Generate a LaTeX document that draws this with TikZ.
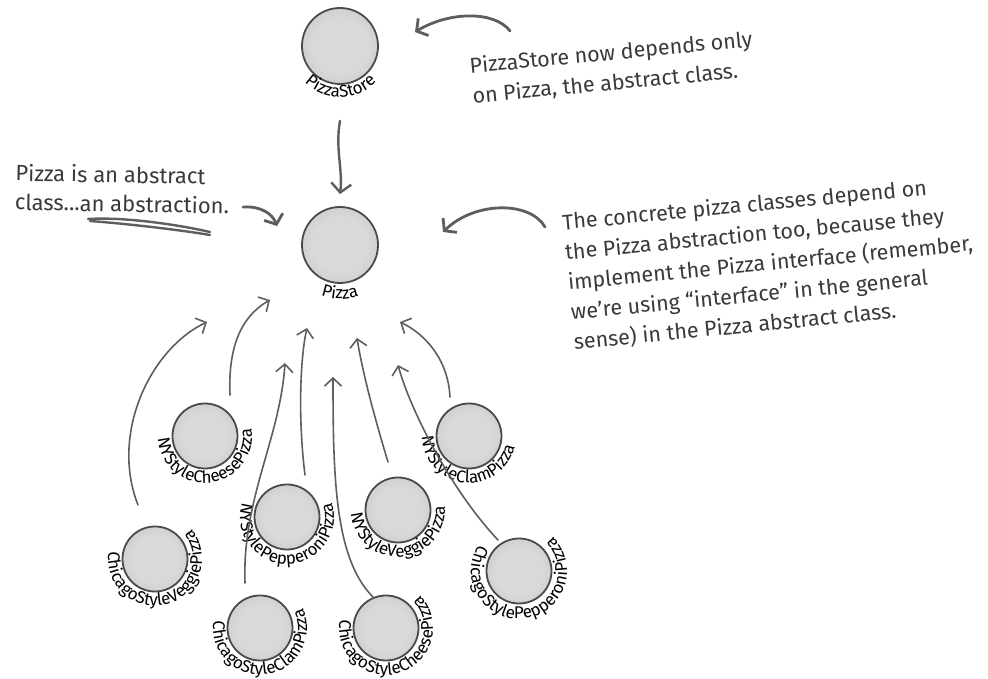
\documentclass[tikz,border=0pt]{standalone}
\usepackage{fontspec}
\setmainfont{Fira Sans}
\newfontfamily\lblfam{Fira Sans}
\usetikzlibrary{arrows.meta,decorations.text}
\definecolor{ballc}{HTML}{D9D9D9}
\definecolor{ballm}{HTML}{C4C4C4}
\definecolor{balle}{HTML}{9A9A9A}
\definecolor{ballr}{HTML}{6A6A6A}
\definecolor{ballline}{HTML}{4A4A4A}
\definecolor{arrowc}{HTML}{5E5E5E}
\definecolor{annotc}{HTML}{3A3A3A}
\pgfdeclareradialshading{ballshade}{\pgfpoint{0bp}{0bp}}{color(0bp)=(ballc); color(18bp)=(ballc); color(35bp)=(ballm); color(45bp)=(balle); color(50bp)=(ballr)}
\newcommand\lblfont{\lblfam\fontsize{17}{20}\selectfont}
\newcommand\notefont{\fontsize{21.5}{30}\selectfont}
\begin{document}
\begin{tikzpicture}[x=1pt,y=1pt,
  ball/.style={circle, inner sep=0pt, minimum size=65pt, shade, shading=ballshade, draw=ballline, line width=1.8pt},
  bigball/.style={ball, minimum size=76pt},
  dep/.style={draw=arrowc, line width=1.6pt, line cap=round, -{Straight Barb[length=8pt,width=17pt]}},
  noteline/.style={draw=arrowc, line width=2.8pt, line cap=round},
  note/.style={noteline, -{Straight Barb[length=8pt,width=20pt]}},
  notetext/.style={text=annotc, font=\notefont, align=left, inner sep=0pt}]
\fill[white] (0,0) rectangle (988,679);
\useasboundingbox (0,0) rectangle (988,679);

% balls
\node[bigball] (store) at (340,633) {};
\node[bigball] (pizza) at (340,434) {};
\node[ball] (nycheese) at (205,243) {};
\node[ball] (nypep) at (287,162) {};
\node[ball] (chiveg) at (155,120) {};
\node[ball] (chiclam) at (260,51) {};
\node[ball] (nyclam) at (469,243) {};
\node[ball] (nyveg) at (398,169) {};
\node[ball] (chipep) at (519,108) {};
\node[ball] (chicheese) at (386,51) {};

% curved labels
\path[decorate, decoration={text along path, text={|\lblfont|PizzaStore}, text align=center}]
  ([shift={(121:51pt)}]store.center) arc[start angle=121, end angle=421, radius=51pt];
\path[decorate, decoration={text along path, text={|\lblfont|Pizza}, text align=center}]
  ([shift={(120:54pt)}]pizza.center) arc[start angle=120, end angle=420, radius=54pt];
\path[decorate, decoration={text along path, text={|\lblfont|NYStyleCheesePizza}, text align=center}]
  ([shift={(126:47pt)}]nycheese.center) arc[start angle=126, end angle=426, radius=47pt];
\path[decorate, decoration={text along path, text={|\lblfont|NYStylePepperoniPizza}, text align=center}]
  ([shift={(120:47pt)}]nypep.center) arc[start angle=120, end angle=420, radius=47pt];
\path[decorate, decoration={text along path, text={|\lblfont|ChicagoStyleVeggiePizza}, text align=center}]
  ([shift={(135:47pt)}]chiveg.center) arc[start angle=135, end angle=435, radius=47pt];
\path[decorate, decoration={text along path, text={|\lblfont|ChicagoStyleClamPizza}, text align=center}]
  ([shift={(128:47pt)}]chiclam.center) arc[start angle=128, end angle=428, radius=47pt];
\path[decorate, decoration={text along path, text={|\lblfont|NYStyleClamPizza}, text align=center}]
  ([shift={(114:47pt)}]nyclam.center) arc[start angle=114, end angle=414, radius=47pt];
\path[decorate, decoration={text along path, text={|\lblfont|NYStyleVeggiePizza}, text align=center}]
  ([shift={(124:47pt)}]nyveg.center) arc[start angle=124, end angle=424, radius=47pt];
\path[decorate, decoration={text along path, text={|\lblfont|ChicagoStylePepperoniPizza}, text align=center}]
  ([shift={(126:48pt)}]chipep.center) arc[start angle=126, end angle=426, radius=48pt];
\path[decorate, decoration={text along path, text={|\lblfont|ChicagoStyleCheesePizza}, text align=center}]
  ([shift={(137:47pt)}]chicheese.center) arc[start angle=137, end angle=437, radius=47pt];

% arrow tips
\coordinate (t1) at (207,357);
\coordinate (t2) at (270,379);
\coordinate (t3) at (307,351);
\coordinate (t4) at (285,316);
\coordinate (t5) at (333,302);
\coordinate (t6) at (357,341);
\coordinate (t7) at (398,314);
\coordinate (t8) at (400,357);

% dependency arrows
\draw[dep, line width=2.4pt, -{Straight Barb[length=9pt,width=20pt]}] ([yshift=-36pt]store.south) .. controls (335,530) and (343,510) .. ([yshift=12pt]pizza.north);
\draw[dep] ([shift={(-17,54)}]chiveg.center) .. controls (110,245) and (150,330) .. (t1);
\draw[dep] ([shift={(25,41)}]nycheese.center) .. controls (228,330) and (240,362) .. (t2);
\draw[dep] ([shift={(18,42)}]nypep.center) .. controls (298,260) and (300,320) .. (t3);
\draw[dep] ([shift={(-15,45)}]chiclam.center) .. controls (242,180) and (280,240) .. (t4);
\draw[dep] ([shift={(-13,31)}]chicheese.center) .. controls (335,120) and (333,200) .. (t5);
\draw[dep] ([shift={(-10,48)}]nyveg.center) .. controls (372,270) and (362,310) .. (t6);
\draw[dep] ([shift={(-21,31)}]chipep.center) .. controls (450,190) and (410,270) .. (t7);
\draw[dep] ([shift={(-19,39)}]nyclam.center) .. controls (448,320) and (425,345) .. (t8);

% annotations
\node[notetext, anchor=west, rotate=5.5] (storenote) at (471,597)
  {PizzaStore now depends only\\on Pizza, the abstract class.};
\node[notetext, anchor=west, rotate=-1, font=\fontsize{22}{29}\selectfont] (absnote) at (15,492)
  {Pizza is an abstract\\class...an abstraction.};
\node[notetext, anchor=west, rotate=5.5] (concnote) at (568,396)
  {The concrete pizza classes depend on\\the Pizza abstraction too, because they\\implement the Pizza interface (remember,\\we’re using “interface” in the general\\sense) in the Pizza abstract class.};

\coordinate (n1s) at (510,648);
\coordinate (n1e) at (415,647);
\coordinate (n2s) at (243,472);
\coordinate (n2e) at (277,453);
\coordinate (n3s) at (545,452);
\coordinate (n3e) at (443,447);
\draw[note] (n1s) .. controls (495,668) and (450,668) .. (n1e);
\draw[note] (n2s) .. controls (260,473) and (272,466) .. (n2e);
\draw[note] (n3s) .. controls (530,478) and (475,478) .. (n3e);

% underline of "abstraction"
\draw[noteline, line width=2.4pt] (88,460) .. controls (120,462) and (170,456) .. (210,447);
\draw[noteline, line width=2.4pt] (90,458) .. controls (130,455) and (180,449) .. (210,444);
\end{tikzpicture}
\end{document}
